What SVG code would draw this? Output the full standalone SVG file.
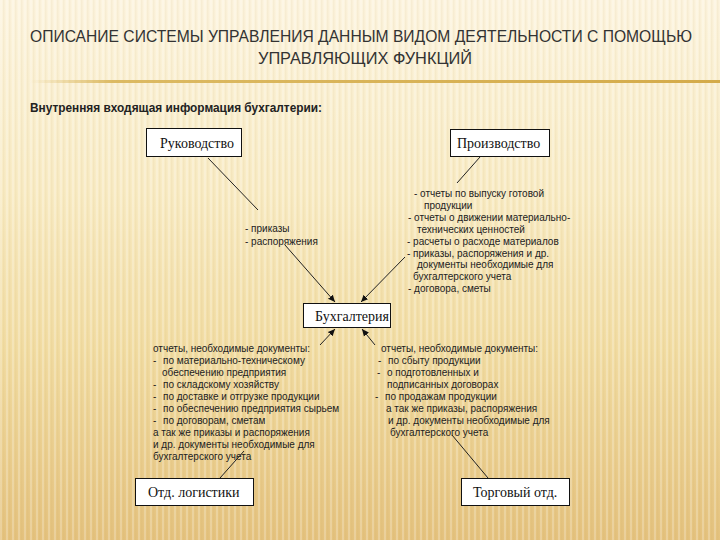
<svg xmlns="http://www.w3.org/2000/svg" width="720" height="540" viewBox="0 0 720 540">
<defs>
<linearGradient id="bg" x1="0" y1="0" x2="0" y2="1">
<stop offset="0" stop-color="#fcf4df"/>
<stop offset="0.35" stop-color="#f8ebc4"/>
<stop offset="0.65" stop-color="#f1dca2"/>
<stop offset="1" stop-color="#e4c27e"/>
</linearGradient>
<pattern id="stripes" width="6" height="540" patternUnits="userSpaceOnUse">
<rect x="0" y="0" width="2" height="540" fill="#ffffff" opacity="0.22"/>
<rect x="3" y="0" width="1.5" height="540" fill="#b89550" opacity="0.08"/>
</pattern>
<linearGradient id="rule" x1="0" y1="0" x2="1" y2="0">
<stop offset="0" stop-color="#d9b456" stop-opacity="0"/>
<stop offset="0.12" stop-color="#d9b456" stop-opacity="0.9"/>
<stop offset="1" stop-color="#d4ab4a"/>
</linearGradient>
<marker id="arr" markerWidth="8" markerHeight="8" refX="7" refY="4" orient="auto" markerUnits="userSpaceOnUse">
<path d="M0,0.8 L7,4 L0,7.2 Z" fill="#111"/>
</marker>
<style>
.box{fill:#ffffff;stroke:#111;stroke-width:1}
.bt{font-family:"Liberation Serif","Times New Roman",serif;font-size:14px;fill:#111}
.t{font-family:"Liberation Sans",Arial,sans-serif;font-size:10px;fill:#222}
.ln{stroke:#222;stroke-width:1;fill:none}
.ar{stroke:#222;stroke-width:1;fill:none;marker-end:url(#arr)}
.title{font-family:"Liberation Sans",Arial,sans-serif;font-size:16px;fill:#333}
.sub{font-family:"Liberation Sans",Arial,sans-serif;font-size:12.5px;font-weight:bold;fill:#222}
</style>
</defs>
<rect width="720" height="540" fill="url(#bg)"/>
<rect width="720" height="540" fill="url(#stripes)"/>
<rect x="30" y="80" width="690" height="3" fill="url(#rule)"/>

<text class="title" x="30" y="42" textLength="662" lengthAdjust="spacingAndGlyphs">ОПИСАНИЕ СИСТЕМЫ УПРАВЛЕНИЯ ДАННЫМ ВИДОМ ДЕЯТЕЛЬНОСТИ С ПОМОЩЬЮ</text>
<text class="title" x="258" y="64" textLength="214" lengthAdjust="spacingAndGlyphs">УПРАВЛЯЮЩИХ ФУНКЦИЙ</text>
<text class="sub" x="30" y="112" textLength="292" lengthAdjust="spacingAndGlyphs">Внутренняя входящая информация бухгалтерии:</text>

<g id="connectors">
<line class="ln" x1="208" y1="158" x2="258" y2="210"/>
<line class="ar" x1="285" y1="245" x2="335" y2="302"/>
<line class="ln" x1="480" y1="157" x2="457" y2="183"/>
<line class="ar" x1="405" y1="257" x2="361" y2="302"/>
<line class="ar" x1="320" y1="345" x2="335" y2="329"/>
<line class="ar" x1="375" y1="345" x2="362" y2="329"/>
<line class="ln" x1="244" y1="451" x2="220" y2="478"/>
<line class="ln" x1="452" y1="435" x2="488" y2="478"/>
</g>

<g id="rukovodstvo">
<rect class="box" x="146.5" y="128.5" width="95" height="28"/>
<text class="bt" x="160" y="148">Руководство</text>
</g>
<g id="proizvodstvo">
<rect class="box" x="450.5" y="129.5" width="99" height="27"/>
<text class="bt" x="457" y="148">Производство</text>
</g>
<g id="buhgalteria">
<rect class="box" x="303.5" y="303.5" width="87" height="24"/>
<text class="bt" x="315" y="321" font-size="13">Бухгалтерия</text>
</g>
<g id="logistika">
<rect class="box" x="135.5" y="478.5" width="118" height="27"/>
<text class="bt" x="148" y="497" font-size="15">Отд. логистики</text>
</g>
<g id="torgovy">
<rect class="box" x="461.5" y="478.5" width="108" height="27"/>
<text class="bt" x="473" y="497" font-size="15">Торговый отд.</text>
</g>

<g id="label-mid">
<text class="t" x="245" y="231.5">- приказы</text>
<text class="t" x="245" y="244.5">- распоряжения</text>
</g>

<g id="label-right-top">
<text class="t" x="414" y="196.5">- отчеты по выпуску готовой</text>
<text class="t" x="424" y="208.5">продукции</text>
<text class="t" x="408" y="220.5">-  отчеты о движении материально-</text>
<text class="t" x="417" y="232.5">технических ценностей</text>
<text class="t" x="407" y="244.5">-  расчеты о расходе материалов</text>
<text class="t" x="407" y="256.5">-  приказы, распоряжения и др.</text>
<text class="t" x="417" y="267.5">документы необходимые для</text>
<text class="t" x="413" y="279.5">бухгалтерского учета</text>
<text class="t" x="408" y="291.5">- договора, сметы</text>
</g>

<g id="label-left-bottom">
<text class="t" x="153" y="351.5">отчеты, необходимые документы:</text>
<text class="t" x="153" y="363.5">-</text><text class="t" x="163" y="363.5">по материально-техническому</text>
<text class="t" x="162" y="375.5">обеспечению предприятия</text>
<text class="t" x="153" y="387.5">-</text><text class="t" x="163" y="387.5">по складскому хозяйству</text>
<text class="t" x="153" y="399.5">-</text><text class="t" x="163" y="399.5">по доставке и отгрузке продукции</text>
<text class="t" x="153" y="411.5">-</text><text class="t" x="163" y="411.5">по обеспечению предприятия сырьем</text>
<text class="t" x="153" y="423.5">-</text><text class="t" x="163" y="423.5">по договорам, сметам</text>
<text class="t" x="153" y="435.5">а так же приказы и распоряжения</text>
<text class="t" x="153" y="447.5">и др. документы необходимые для</text>
<text class="t" x="153" y="459.5">бухгалтерского учета</text>
</g>

<g id="label-right-bottom">
<text class="t" x="381" y="351.5">отчеты, необходимые документы:</text>
<text class="t" x="378" y="363.5">-</text><text class="t" x="388" y="363.5">по сбыту продукции</text>
<text class="t" x="377" y="375.5">-</text><text class="t" x="387" y="375.5">о подготовленных и</text>
<text class="t" x="387" y="387.5">подписанных договорах</text>
<text class="t" x="375" y="399.5">-</text><text class="t" x="385" y="399.5">по продажам продукции</text>
<text class="t" x="386" y="411.5">а так же приказы, распоряжения</text>
<text class="t" x="388" y="423.5">и др. документы необходимые для</text>
<text class="t" x="390" y="435.5">бухгалтерского учета</text>
</g>
</svg>
